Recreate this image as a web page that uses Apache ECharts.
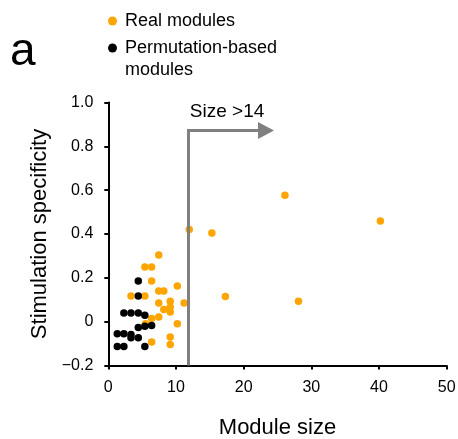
<!DOCTYPE html>
<html><head><meta charset="utf-8">
<script src="https://cdn.jsdelivr.net/npm/echarts@6/dist/echarts.min.js"></script>
<style>html,body{margin:0;padding:0;background:#fff}#c{width:458px;height:439px}</style>
</head><body><div id="c"></div>
<script>
// Real modules (orange)
const realX = [26.1, 40.2, 11.96, 15.3, 10.2, 17.3, 11.2, 28.1, 7.45, 5.4, 6.4, 6.4, 3.35, 5.4, 7.45, 8.2, 7.45, 9.15, 9.15, 8.2, 9.15, 6.4, 7.45, 10.2, 5.5, 6.4, 9.15, 9.15];
const realY = [0.577, 0.459, 0.42, 0.405, 0.163, 0.115, 0.085, 0.093, 0.304, 0.249, 0.249, 0.185, 0.117, 0.117, 0.14, 0.14, 0.085, 0.093, 0.067, 0.055, 0.044, 0.014, 0.021, -0.009, -0.009, -0.093, -0.07, -0.104];
// Permutation-based modules (black)
const permX = [4.43, 4.43, 2.3, 3.35, 4.43, 5.4, 4.43, 5.4, 6.4, 1.33, 2.3, 3.35, 3.35, 4.43, 1.33, 2.3, 5.4];
const permY = [0.185, 0.117, 0.039, 0.039, 0.039, 0.029, -0.027, -0.021, -0.017, -0.055, -0.055, -0.058, -0.073, -0.073, -0.113, -0.113, -0.113];
const xTickValues = [0, 10, 20, 30, 40, 50];
const yTickLabels = ['\u22120.2', '0', '0.2', '0.4', '0.6', '0.8', '1.0'];
const cutoffX = 11.8;
const arrowTopY = 0.872;
const arrowEndX = 23.3;
const seriesNames = ['Real modules', 'Permutation-based modules'];
const cutoffLabel = 'Size >14';

const FONT = 'Liberation Sans, Arial, sans-serif';
const chart = echarts.init(document.getElementById('c'), null, {renderer: 'canvas'});
const zip = (xs, ys) => xs.map((x, i) => [x, ys[i]]);

chart.setOption({
  animation: false,
  backgroundColor: '#fff',
  textStyle: {fontFamily: FONT},
  grid: {left: 108.3, right: 11.3, top: 102.5, bottom: 73.5, outerBoundsMode: 'none'},
  legend: [
    {
      data: [seriesNames[0]], orient: 'vertical', left: 108, top: 10, padding: 0,
      icon: 'circle', itemWidth: 9, itemHeight: 9,
      textStyle: {fontSize: 18, color: '#000', fontFamily: FONT, lineHeight: 22, padding: [0, 0, 0, 3]}
    },
    {
      data: [seriesNames[1]], orient: 'vertical', left: 108, top: 15, padding: 0,
      icon: 'circle', itemWidth: 9, itemHeight: 9,
      // leading empty line keeps the icon level with the first text line
      formatter: n => '\n' + n.replace(' ', '\n'),
      textStyle: {fontSize: 18, color: '#000', fontFamily: FONT, lineHeight: 22, padding: [0, 0, 0, 3]}
    }
  ],
  graphic: [{
    type: 'text', left: 10, top: 29,
    style: {text: 'a', font: '46px ' + FONT, fill: '#000'}
  }],
  xAxis: {
    type: 'value', min: 0, max: 50, interval: 10,
    name: 'Module size', nameLocation: 'middle', nameGap: 51,
    nameTextStyle: {fontSize: 22, color: '#000', fontFamily: FONT},
    axisLine: {show: true, onZero: false, lineStyle: {color: '#000', width: 2}},
    axisTick: {show: true, inside: false, length: 4, lineStyle: {color: '#000', width: 2}},
    axisLabel: {fontSize: 16, color: '#000', margin: 14, fontFamily: FONT,
      formatter: v => String(xTickValues[Math.round(v / 10)])},
    splitLine: {show: false}
  },
  yAxis: {
    type: 'value', min: -0.2, max: 1.0, interval: 0.2,
    name: 'Stimulation specificity', nameLocation: 'middle', nameGap: 55,
    nameTextStyle: {fontSize: 22, color: '#000', fontFamily: FONT},
    axisLine: {show: true, onZero: false, lineStyle: {color: '#000', width: 2}},
    axisTick: {show: true, inside: false, length: 4, lineStyle: {color: '#000', width: 2}},
    axisLabel: {fontSize: 16, color: '#000', margin: 15, fontFamily: FONT,
      formatter: v => yTickLabels[Math.round((v + 0.2) / 0.2)]},
    splitLine: {show: false}
  },
  series: [
    {
      name: seriesNames[0], type: 'scatter', symbol: 'circle', symbolSize: 7.5,
      itemStyle: {color: '#FFA500', opacity: 1},
      data: zip(realX, realY), z: 3,
      markLine: {
        silent: true, animation: false, symbol: ['none', 'none'],
        lineStyle: {color: '#808080', width: 3, type: 'solid'},
        label: {show: false},
        emphasis: {disabled: true},
        data: [
          [{coord: [cutoffX, -0.2]}, {coord: [cutoffX, arrowTopY + 0.007]}],
          [
            {coord: [cutoffX, arrowTopY], symbol: 'none',
             label: {show: true, position: 'middle', formatter: cutoffLabel, fontSize: 19, color: '#000', fontFamily: FONT, distance: 9}},
            {coord: [arrowEndX, arrowTopY], symbol: 'triangle', symbolSize: [17, 16],
             label: {show: true, position: 'middle', formatter: cutoffLabel, fontSize: 19, color: '#000', fontFamily: FONT, distance: 9}}
          ]
        ]
      }
    },
    {
      name: seriesNames[1], type: 'scatter', symbol: 'circle', symbolSize: 7.5,
      itemStyle: {color: '#000', opacity: 1},
      data: zip(permX, permY), z: 4
    }
  ]
});
</script>
</body></html>
